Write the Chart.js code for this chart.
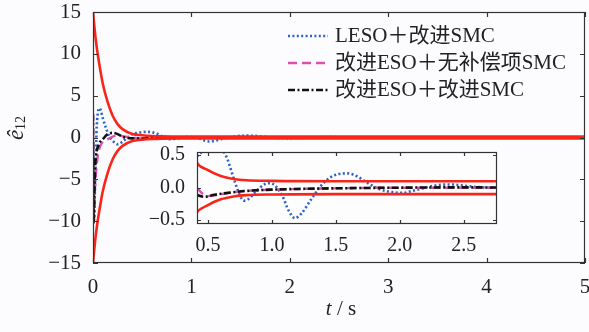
<!DOCTYPE html>
<html>
<head>
<meta charset="utf-8">
<script src="https://cdn.jsdelivr.net/npm/chart.js@4"></script>
<style>
  html, body { margin: 0; padding: 0; background: #fcfcfe; }
  #wrap { position: relative; width: 589px; height: 332px; }
  #main { position: absolute; left: 0; top: 0; }
  #inset { position: absolute; left: 130px; top: 142px; }
</style>
</head>
<body>
<div id="wrap">
  <canvas id="main" width="589" height="332"></canvas>
  <canvas id="inset" width="372" height="110"></canvas>
</div>
<script>
// values
const seriesNames = ['LESO＋改进SMC', '改进ESO＋无补偿项SMC', '改进ESO＋改进SMC'];

const envT     = [0, 0.025, 0.05, 0.075, 0.1, 0.15, 0.2, 0.25, 0.3, 0.4, 0.5, 0.6, 0.7, 0.8, 1.0, 1.5, 2, 3, 4, 5];
const envUpper = [15, 12.0, 9.8, 8.0, 6.4, 4.2, 2.6, 1.6, 1.0, 0.42, 0.27, 0.18, 0.135, 0.115, 0.105, 0.1, 0.1, 0.1, 0.1, 0.1];
const envLower = [-15, -12.0, -9.8, -8.0, -6.4, -4.2, -2.6, -1.6, -1.0, -0.42, -0.27, -0.18, -0.135, -0.115, -0.105, -0.1, -0.1, -0.1, -0.1, -0.1];

const lesoT = [0, 0.01, 0.02, 0.035, 0.05, 0.065, 0.08, 0.1, 0.13, 0.16, 0.2, 0.25, 0.3, 0.35, 0.4, 0.45, 0.5, 0.55, 0.6, 0.65, 0.7, 0.75, 0.78, 0.82, 0.88, 0.94, 0.98, 1.02, 1.08, 1.13, 1.18, 1.23, 1.3, 1.38, 1.45, 1.52, 1.59, 1.66, 1.75, 1.85, 1.95, 2.02, 2.1, 2.2, 2.3, 2.4, 2.5, 2.6, 2.7, 3, 4, 5];
const lesoY = [0, -10, -6, 0.5, 3.0, 3.5, 3.2, 2.3, 1.2, 0.3, -0.4, -0.8, -0.5, 0.0, 0.42, 0.55, 0.65, 0.68, 0.62, 0.45, 0.15, -0.12, -0.2, -0.17, -0.05, 0.05, 0.07, 0.04, -0.12, -0.35, -0.47, -0.4, -0.2, 0.02, 0.15, 0.21, 0.22, 0.18, 0.07, -0.03, -0.07, -0.08, -0.05, 0.0, 0.04, 0.05, 0.03, 0.01, 0.0, 0, 0, 0];

const noCompT = [0, 0.005, 0.02, 0.04, 0.06, 0.1, 0.15, 0.2, 0.25, 0.3, 0.35, 0.41, 0.45, 0.5, 0.6, 0.7, 0.8, 1.0, 1.2, 1.5, 2, 3, 5];
const noCompY = [2.5, -9.5, -6, -3, -1.5, -0.5, -0.2, 0.1, 0.25, 0.15, 0.05, 0.0, -0.08, -0.13, -0.1, -0.07, -0.05, -0.03, -0.02, -0.01, 0, 0, 0];

const improvedT = [0, 0.005, 0.02, 0.03, 0.06, 0.1, 0.15, 0.2, 0.25, 0.3, 0.35, 0.41, 0.47, 0.55, 0.7, 0.8, 1.0, 1.2, 1.5, 2, 2.5, 3, 5];
const improvedY = [2.8, -10.3, -4, -2.3, -0.8, -0.2, 0.4, 0.55, 0.4, 0.1, -0.05, -0.11, -0.14, -0.11, -0.07, -0.05, -0.03, -0.02, -0.01, 0, 0.005, 0, 0];

const mainXTicks  = [0, 1, 2, 3, 4, 5];
const mainYTicks  = [-15, -10, -5, 0, 5, 10, 15];
const insetXTicks = [0.5, 1.0, 1.5, 2.0, 2.5];
const insetYTicks = [-0.5, 0.0, 0.5];

const serif = '"Liberation Serif", "Times New Roman", serif';
const pts = (ts, ys) => ts.map((t, i) => ({x: t, y: ys[i]}));

const styles = [
    {color: '#2c62c6', dash: [2, 2.4], width: 2.6},
    {color: '#dc4fae', dash: [9, 5], width: 2.4},
    {color: '#111111', dash: [7, 2.5, 2, 2.5], width: 2.6}
];

function makeDatasets() {
    const red = {borderColor: '#f8261a', borderWidth: 2.6, pointRadius: 0, cubicInterpolationMode: 'monotone', clip: 0, order: 0};
    return [
        Object.assign({data: pts(envT, envUpper)}, red),
        Object.assign({data: pts(envT, envLower)}, red),
        {data: pts(improvedT, improvedY), borderColor: styles[2].color, borderDash: styles[2].dash, borderWidth: styles[2].width,
            pointRadius: 0, cubicInterpolationMode: 'monotone', clip: 0, order: 1},
        {data: pts(noCompT, noCompY), borderColor: styles[1].color, borderDash: styles[1].dash, borderWidth: styles[1].width,
            pointRadius: 0, cubicInterpolationMode: 'monotone', clip: 0, order: 2},
        {data: pts(lesoT, lesoY), borderColor: styles[0].color, borderDash: styles[0].dash, borderWidth: styles[0].width,
            pointRadius: 0, cubicInterpolationMode: 'monotone', clip: 0, order: 3}
    ];
}

// box + inward ticks on all four sides
function frameTicks(len) {
    return {
        id: 'frameTicks',
        afterDatasetsDraw(chart) {
            const {ctx, chartArea: a, scales: {x, y}} = chart;
            ctx.save();
            ctx.strokeStyle = '#333';
            ctx.lineWidth = 1.2;
            ctx.setLineDash([]);
            ctx.strokeRect(a.left + 0.5, a.top + 0.5, a.right - a.left - 1, a.bottom - a.top - 1);
            ctx.beginPath();
            x.ticks.forEach(t => {
                const px = Math.round(x.getPixelForValue(t.value)) + 0.5;
                ctx.moveTo(px, a.bottom); ctx.lineTo(px, a.bottom - len);
                ctx.moveTo(px, a.top); ctx.lineTo(px, a.top + len);
            });
            y.ticks.forEach(t => {
                const py = Math.round(y.getPixelForValue(t.value)) + 0.5;
                ctx.moveTo(a.left, py); ctx.lineTo(a.left + len, py);
                ctx.moveTo(a.right, py); ctx.lineTo(a.right - len, py);
            });
            ctx.stroke();
            ctx.restore();
        }
    };
}

const minus = s => s.replace('-', '−');
const noSidePad = s => { s.paddingLeft = 0; s.paddingRight = 0; };

const annotations = {
    id: 'annotations',
    afterDraw(chart) {
        const ctx = chart.ctx;
        ctx.save();
        ctx.fillStyle = '#222';
        // legend
        const rows = [36, 63, 90];
        rows.forEach((yy, i) => {
            ctx.strokeStyle = styles[i].color;
            ctx.lineWidth = styles[i].width;
            ctx.setLineDash(styles[i].dash);
            ctx.beginPath();
            ctx.moveTo(288, yy); ctx.lineTo(328, yy);
            ctx.stroke();
            ctx.setLineDash([]);
            ctx.font = '21px ' + serif + ', "Noto Sans CJK SC"';
            ctx.textBaseline = 'middle';
            ctx.fillText(seriesNames[i], 335, yy);
        });
        // x axis title
        ctx.textBaseline = 'alphabetic';
        ctx.font = 'italic 21px ' + serif;
        const wt = ctx.measureText('t').width;
        ctx.font = '21px ' + serif;
        const wr = ctx.measureText(' / s').width;
        const x0 = 341 - (wt + wr) / 2;
        ctx.font = 'italic 21px ' + serif;
        ctx.fillText('t', x0, 315);
        ctx.font = '21px ' + serif;
        ctx.fillText(' / s', x0 + wt, 315);
        // y axis title
        ctx.translate(23, 128);
        ctx.rotate(-Math.PI / 2);
        ctx.font = 'italic 23px ' + serif;
        const we = ctx.measureText('ê').width;
        ctx.font = '14px ' + serif;
        const ws = ctx.measureText('12').width;
        ctx.font = 'italic 23px ' + serif;
        ctx.fillText('ê', -(we + ws) / 2, 0);
        ctx.font = '14px ' + serif;
        ctx.fillText('12', -(we + ws) / 2 + we, 2);
        ctx.restore();
    }
};

new Chart(document.getElementById('main').getContext('2d'), {
    type: 'line',
    data: {datasets: makeDatasets()},
    options: {
        responsive: false,
        animation: false,
        devicePixelRatio: 1,
        layout: {padding: {left: 0, top: 12, right: 4, bottom: 0}},
        plugins: {legend: {display: false}, tooltip: {enabled: false}},
        scales: {
            x: {
                type: 'linear', min: 0, max: 5,
                afterBuildTicks: s => { s.ticks = mainXTicks.map(v => ({value: v})); },
                afterFit: s => { s.height = 69; noSidePad(s); },
                grid: {display: false}, border: {display: false},
                ticks: {color: '#222', padding: 4, maxRotation: 0, font: {family: serif, size: 21},
                    callback: v => minus(String(v))}
            },
            y: {
                type: 'linear', min: -15, max: 15,
                afterBuildTicks: s => { s.ticks = mainYTicks.map(v => ({value: v})); },
                afterFit: s => { s.width = 93; s.paddingTop = 0; s.paddingBottom = 0; },
                grid: {display: false}, border: {display: false},
                ticks: {color: '#222', padding: 4, font: {family: serif, size: 21},
                    callback: v => minus(String(v))}
            }
        }
    },
    plugins: [frameTicks(5), annotations]
});

new Chart(document.getElementById('inset').getContext('2d'), {
    type: 'line',
    data: {datasets: makeDatasets()},
    options: {
        responsive: false,
        animation: false,
        devicePixelRatio: 1,
        layout: {padding: {left: 0, top: 10, right: 5, bottom: 0}},
        plugins: {legend: {display: false}, tooltip: {enabled: false}},
        scales: {
            x: {
                type: 'linear', min: 0.414, max: 2.76,
                afterBuildTicks: s => { s.ticks = insetXTicks.map(v => ({value: v})); },
                afterFit: s => { s.height = 28; noSidePad(s); },
                grid: {display: false}, border: {display: false},
                ticks: {color: '#222', padding: 2, maxRotation: 0, font: {family: serif, size: 20},
                    callback: v => v.toFixed(1)}
            },
            y: {
                type: 'linear', min: -0.56, max: 0.55,
                afterBuildTicks: s => { s.ticks = insetYTicks.map(v => ({value: v})); },
                afterFit: s => { s.width = 67; s.paddingTop = 0; s.paddingBottom = 0; },
                grid: {display: false}, border: {display: false},
                ticks: {color: '#222', padding: 4, font: {family: serif, size: 20},
                    callback: v => minus(v.toFixed(1))}
            }
        }
    },
    plugins: [{
        id: 'insetBg',
        beforeDatasetsDraw(chart) {
            const a = chart.chartArea;
            chart.ctx.save();
            chart.ctx.fillStyle = '#fdfdfe';
            chart.ctx.fillRect(a.left, a.top, a.right - a.left, a.bottom - a.top);
            chart.ctx.restore();
        }
    }, frameTicks(4)]
});
</script>
</body>
</html>
